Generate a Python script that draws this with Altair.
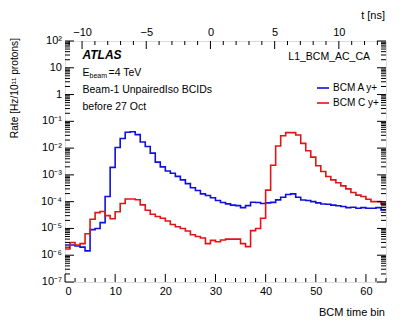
import altair as alt
import pandas as pd

# ---------------- data ----------------
bins = list(range(64))
bcm_a = [
    2.4e-6, 2.4e-6, 2.2e-6, 2.0e-6, 1.45e-6, 9.0e-6, 1.0e-5, 1.65e-5, 1.55e-4, 1.9e-3,
    1.05e-2, 2.3e-2, 3.9e-2, 4.1e-2, 3.2e-2, 1.7e-2, 1.15e-2, 6.5e-3, 3.0e-3, 2.0e-3,
    1.4e-3, 1.15e-3, 8.8e-4, 6.5e-4, 4.7e-4, 3.3e-4, 2.6e-4, 1.95e-4, 1.7e-4, 1.4e-4,
    1.1e-4, 9.3e-5, 8.3e-5, 7.4e-5, 7.1e-5, 6.0e-5, 7.1e-5, 9.5e-5, 9.3e-5, 8.5e-5,
    9.0e-5, 9.4e-5, 1.17e-4, 1.47e-4, 1.85e-4, 1.95e-4, 1.47e-4, 1.15e-4, 1.1e-4, 1.0e-4,
    9.0e-5, 8.2e-5, 8.0e-5, 7.4e-5, 7.0e-5, 6.6e-5, 6.0e-5, 6.2e-5, 5.7e-5, 6.0e-5,
    5.7e-5, 5.7e-5, 6.0e-5, 4.9e-5,
]
bcm_c = [
    1.7e-6, 3.0e-6, 2.4e-6, 2.7e-6, 6.3e-6, 2.2e-5, 3.9e-5, 4.3e-5, 3.0e-5, 2.3e-5,
    4.2e-5, 8.5e-5, 1.25e-4, 1.25e-4, 1.18e-4, 7.6e-5, 4.8e-5, 3.4e-5, 2.8e-5, 2.4e-5,
    1.9e-5, 1.4e-5, 1.15e-5, 1.0e-5, 8.0e-6, 5.8e-6, 5.0e-6, 4.4e-6, 2.7e-6, 3.6e-6,
    3.2e-6, 3.7e-6, 4.0e-6, 4.0e-6, 4.0e-6, 2.7e-6, 2.1e-6, 8.3e-6, 1.0e-5, 2.4e-5,
    2.7e-4, 2.3e-3, 1.2e-2, 2.9e-2, 3.8e-2, 3.8e-2, 3.1e-2, 1.5e-2, 8.0e-3, 4.6e-3,
    2.2e-3, 1.33e-3, 8.7e-4, 6.5e-4, 5.1e-4, 3.9e-4, 3.0e-4, 2.2e-4, 1.75e-4, 1.55e-4,
    1.23e-4, 1.0e-4, 1.0e-4, 8.3e-5,
]
series_names = ["BCM A y+", "BCM C y+"]
series_colors = ["#1010dd", "#e01515"]

x_labels = [0, 10, 20, 30, 40, 50, 60]
t_labels = [-10, -5, 0, 5, 10]
y_decades = [1e2, 1e1, 1e0, 1e-1, 1e-2, 1e-3, 1e-4, 1e-5, 1e-6, 1e-7]
y_decade_labels = ["10²", "10", "1", "10⁻¹", "10⁻²", "10⁻³", "10⁻⁴", "10⁻⁵", "10⁻⁶", "10⁻⁷"]

NBINS = 64
T0_BIN = 29
NS_PER_BIN = 25.0 / 64.0

W, H = 321, 241
FONT = "Liberation Sans"
FS = 10.5

# ---------------- tables ----------------
rows = []
for name, vals in zip(series_names, [bcm_a, bcm_c]):
    for b, v in zip(bins, vals):
        rows.append({"bin": b, "rate": v, "series": name})
    rows.append({"bin": NBINS, "rate": vals[-1], "series": name})
df = pd.DataFrame(rows)

xscale = alt.Scale(domain=[0, NBINS], nice=False, zero=False)
tscale = alt.Scale(domain=[-T0_BIN * NS_PER_BIN, (NBINS - T0_BIN) * NS_PER_BIN], nice=False, zero=False)
yscale = alt.Scale(type="log", domain=[1e-7, 1e2], nice=False)

x_ticks = pd.DataFrame({"bin": list(range(0, NBINS + 1, 2))})
x_ticks["major"] = x_ticks["bin"] % 10 == 0
t_ticks = pd.DataFrame({"t": list(range(-11, 14))})
t_ticks["major"] = t_ticks["t"] % 5 == 0
y_major = pd.DataFrame({"v": y_decades, "label": y_decade_labels})
y_minor = pd.DataFrame({"v": [m * d for d in y_decades[1:] for m in range(2, 10)]})

# ---------------- layers ----------------
lines = alt.Chart(df).mark_line(interpolate="step-after", strokeWidth=1.6, clip=True).encode(
    x=alt.X("bin:Q", scale=xscale,
            axis=alt.Axis(values=x_labels, ticks=False, domain=False, grid=False, title=None,
                          labelFontSize=FS + 0.5, labelPadding=3, labelFont=FONT, labelColor="black")),
    y=alt.Y("rate:Q", scale=yscale, axis=None),
    color=alt.Color("series:N", scale=alt.Scale(domain=series_names, range=series_colors),
                    legend=alt.Legend(orient="none", legendX=251, legendY=40, title=None,
                                      symbolType="stroke", symbolSize=144, symbolStrokeWidth=1.6,
                                      labelFontSize=10, labelFont=FONT, labelOffset=3,
                                      rowPadding=3, padding=0)),
)

def xrule(data, cond, length, bottom=True):
    base = alt.Chart(data).transform_filter(cond)
    y0 = H if bottom else 0
    y1 = H - length if bottom else length
    return base.mark_rule(color="black", strokeWidth=1).encode(
        x=alt.X("bin:Q", scale=xscale, axis=None),
        y=alt.value(y0), y2=alt.value(y1))

bottom_major = xrule(x_ticks, "datum.major", 8)
bottom_minor = xrule(x_ticks, "!datum.major", 4)

top_major = alt.Chart(t_ticks).transform_filter("datum.major").mark_rule(color="black").encode(
    x=alt.X("t:Q", scale=tscale,
            axis=alt.Axis(orient="top", values=t_labels, ticks=False, domain=False, grid=False,
                          title=None, labelFontSize=FS + 0.5, labelPadding=4, labelFont=FONT,
                          labelColor="black")),
    y=alt.value(0), y2=alt.value(8))
top_minor = alt.Chart(t_ticks).transform_filter("!datum.major").mark_rule(color="black").encode(
    x=alt.X("t:Q", scale=tscale, axis=None),
    y=alt.value(0), y2=alt.value(4))

def yrule(data, length, left=True):
    x0 = 0 if left else W
    x1 = length if left else W - length
    return alt.Chart(data).mark_rule(color="black", strokeWidth=1).encode(
        y=alt.Y("v:Q", scale=yscale, axis=None),
        x=alt.value(x0), x2=alt.value(x1))

y_ticks = [yrule(y_major, 9, True), yrule(y_major, 9, False),
           yrule(y_minor, 5, True), yrule(y_minor, 5, False)]

y_lab = alt.Chart(y_major).mark_text(align="right", baseline="middle", fontSize=FS + 0.5,
                                     font=FONT, color="black").encode(
    y=alt.Y("v:Q", scale=yscale, axis=None), x=alt.value(-3), text="label:N")

def txt(s, x, y, align="left", size=FS, **kw):
    return alt.Chart(pd.DataFrame({"s": [s]})).mark_text(
        align=align, baseline="middle", fontSize=size, font=FONT, color="black", **kw).encode(
        x=alt.value(x), y=alt.value(y), text="s:N")

texts = [
    txt("ATLAS", 17.5, 14, size=12, fontWeight="bold", fontStyle="italic"),
    txt("E", 17.5, 32),
    txt("beam", 24.5, 35, size=7),
    txt("=4 TeV", 43.5, 32),
    txt("Beam-1 UnpairedIso BCIDs", 17.5, 49),
    txt("before 27 Oct", 17.5, 65.5),
    txt("L1_BCM_AC_CA", 305, 16, align="right"),
    txt("t [ns]", 320, -25, align="right", size=FS + 0.5),
    txt("BCM time bin", 320, 272, align="right", size=FS + 0.5),
    txt("Rate [Hz/10¹¹ protons]", -50, -3, align="right", size=10.2, angle=270),
]

chart = alt.layer(
    lines, bottom_major, bottom_minor, top_major, top_minor, *y_ticks, y_lab, *texts
).resolve_scale(x="independent").properties(
    width=W, height=H,
    autosize=alt.AutoSizeParams(type="none"),
    padding={"left": 57, "top": 33, "right": 13, "bottom": 45},
).configure_view(stroke="black", strokeWidth=1).configure(background="white")

chart.save("out.html", embed_options={"renderer": "svg", "actions": False})
